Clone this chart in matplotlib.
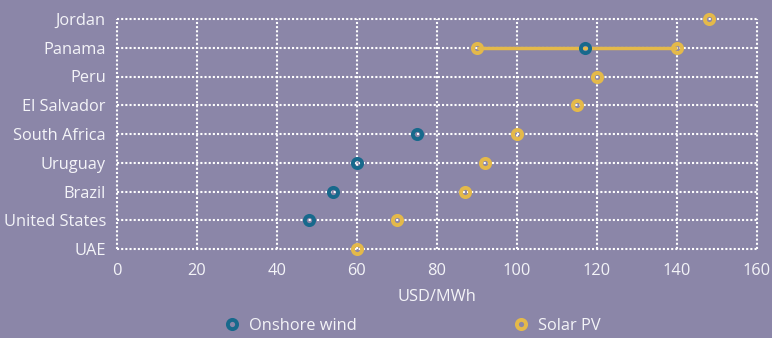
import matplotlib
matplotlib.use("Agg")
import matplotlib.pyplot as plt
from matplotlib.lines import Line2D

countries = ["UAE", "United States", "Brazil", "Uruguay", "South Africa",
             "El Salvador", "Peru", "Panama", "Jordan"]
wind = [None, 48, 54, 60, 75, None, None, 117, None]
solar = [[60], [70], [87], [92], [100], [115], [120], [90, 140], [148]]
xticks = [0, 20, 40, 60, 80, 100, 120, 140, 160]

BG = "#8B86A8"
WIND_C = "#17698C"
SOLAR_C = "#E4B94A"
TXT = "#F4F4F8"
FS = 11.8
plt.rcParams['font.family'] = ['Open Sans', 'DejaVu Sans']

fig = plt.figure(figsize=(7.72, 3.38), dpi=100, facecolor=BG)
ax = fig.add_axes([117/772, 1-249/338, 640/772, 230/338], facecolor=BG)

ax.set_xlim(0, 160)
ax.set_ylim(0, len(countries)-1)
ax.set_xticks(xticks)
ax.set_yticks(range(len(countries)))
ax.set_yticklabels(countries)
for s in ax.spines.values():
    s.set_visible(False)
ax.tick_params(length=0, colors=TXT, labelsize=FS)
ax.tick_params(axis='x', pad=10)
ax.tick_params(axis='y', pad=8)
gl = dict(color="white", linewidth=1.5, linestyle=(0, (1, 1)), dash_capstyle="butt", zorder=1, clip_on=False)
for x in xticks:
    ax.plot([x, x], [0, len(countries)-1], **gl)
for y in range(len(countries)):
    ax.plot([0, 160], [y, y], **gl)

mk = dict(marker="o", markersize=6.6, markeredgewidth=2.8, markerfacecolor="none",
          linestyle="none", zorder=4, clip_on=False)
for i, vals in enumerate(solar):
    if len(vals) > 1:
        ax.plot([min(vals), max(vals)], [i, i], color=SOLAR_C, linewidth=2.5, zorder=2,
                solid_capstyle="butt")
    ax.plot(vals, [i]*len(vals), markeredgecolor=SOLAR_C, **mk)
for i, v in enumerate(wind):
    if v is not None:
        ax.plot([v], [i], markeredgecolor=WIND_C, **mk)

ax.set_xlabel("USD/MWh", color=TXT, fontsize=FS, labelpad=7)

labels = ["Onshore wind", "Solar PV"]
colors = [WIND_C, SOLAR_C]
xpos = [224/772, 513/772]
for lab, c, xp in zip(labels, colors, xpos):
    h = Line2D([], [], markeredgecolor=c, **mk)
    leg = fig.legend([h], [lab], loc="center left", bbox_to_anchor=(xp, 1-326/338),
                     frameon=False, fontsize=FS, handlelength=1.0, handletextpad=0.5,
                     borderpad=0, borderaxespad=0)
    for t in leg.get_texts():
        t.set_color(TXT)

fig.savefig("out.png", dpi=100, facecolor=BG)
